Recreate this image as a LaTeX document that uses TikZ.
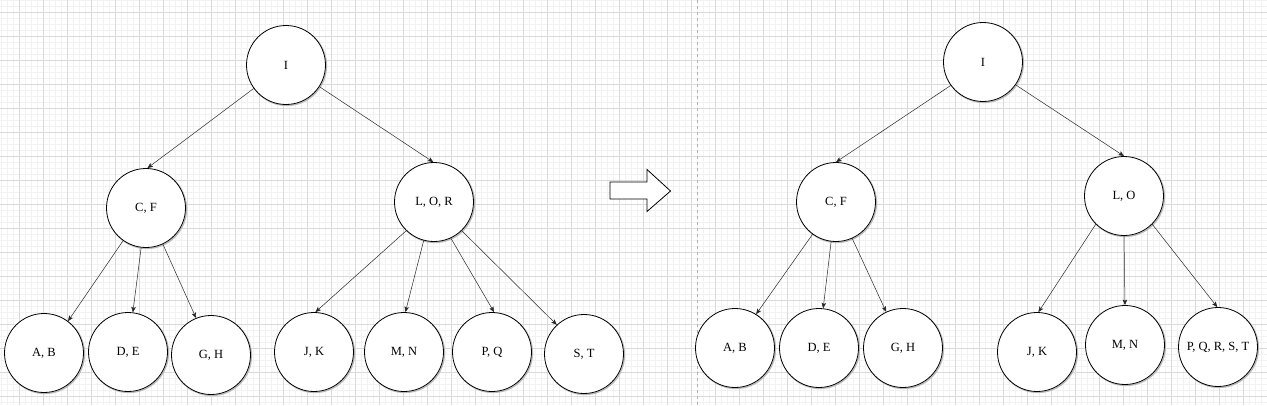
\documentclass[tikz,border=0pt]{standalone}
\usepackage{fontspec}
\setmainfont{Liberation Serif}
\usetikzlibrary{arrows.meta}
\definecolor{gridmajor}{RGB}{218,218,218}
\definecolor{gridminor}{RGB}{242,242,242}
\definecolor{edgecol}{RGB}{40,40,40}
\tikzset{
  treenode/.style={circle, draw=black, line width=0.8pt, fill=white, minimum size=79pt, inner sep=0pt,
    font=\fontsize{12.5}{14}\selectfont,
    preaction={draw=gray!55, line width=1.4pt, transform canvas={xshift=0.9pt,yshift=-0.9pt}}},
  edge/.style={draw=edgecol, line width=0.5pt, -{Stealth[length=5.5pt,width=4.5pt,inset=1.2pt]}},
}
\begin{document}
\begin{tikzpicture}[x=1pt,y=-1pt]
\useasboundingbox (0,0) rectangle (1267,405);
\fill[white] (0,0) rectangle (1267,405);
% grid
\foreach \x in {1.5,7.5,...,1267} \draw[gridminor, line width=0.5pt] (\x,0) -- (\x,405);
\foreach \y in {0.5,6.5,...,405} \draw[gridminor, line width=0.5pt] (0,\y) -- (1267,\y);
\foreach \x in {19.5,43.5,...,1267} \draw[gridmajor, line width=0.5pt] (\x,0) -- (\x,405);
\foreach \y in {12.5,36.5,...,405} \draw[gridmajor, line width=0.5pt] (0,\y) -- (1267,\y);
% separator
\draw[gray!60, line width=0.6pt, dash pattern=on 3pt off 3pt] (697,0) -- (697,405);

% left tree
\node[treenode] (I1) at (286,65) {I};
\node[treenode] (CF1) at (146,208) {C, F};
\node[treenode] (LOR) at (434,202) {L, O, R};
\node[treenode] (AB1) at (44,353) {A, B};
\node[treenode] (DE1) at (128,352) {D, E};
\node[treenode] (GH1) at (211,355) {G, H};
\node[treenode] (JK1) at (314,352) {J, K};
\node[treenode] (MN1) at (404,352) {M, N};
\node[treenode] (PQ) at (492,352) {P, Q};
\node[treenode] (ST) at (584,354) {S, T};

\draw[edge] (I1.216) -- (CF1.88);
\draw[edge] (I1.327) -- (LOR.91);
\draw[edge] (CF1.235) -- (AB1.53);
\draw[edge] (CF1.263) -- (DE1.83);
\draw[edge] (CF1.295) -- (GH1.112);
\draw[edge] (LOR.226) -- (JK1.88);
\draw[edge] (LOR.255) -- (MN1.88);
\draw[edge] (LOR.295) -- (PQ.87);
\draw[edge] (LOR.314) -- (ST.133);

% block arrow
\draw[black, line width=0.8pt, fill=white, line join=miter]
  (610,182) -- (647,182) -- (647,169.5) -- (670.5,191) -- (647,211.5) -- (647,199) -- (610,199) -- cycle;

% right tree
\node[treenode] (I2) at (983,62) {I};
\node[treenode] (CF2) at (836,202) {C, F};
\node[treenode] (LO) at (1124,196) {L, O};
\node[treenode] (AB2) at (735,348) {A, B};
\node[treenode] (DE2) at (819,348) {D, E};
\node[treenode] (GH2) at (903,348) {G, H};
\node[treenode] (JK2) at (1037,352) {J, K};
\node[treenode] (MN2) at (1125,345) {M, N};
\node[treenode] (PQRST) at (1218,347) {P, Q, R, S, T};

\draw[edge] (I2.216) -- (CF2.90);
\draw[edge] (I2.325) -- (LO.90);
\draw[edge] (CF2.234) -- (AB2.58);
\draw[edge] (CF2.263) -- (DE2.84);
\draw[edge] (CF2.294) -- (GH2.115);
\draw[edge] (LO.225) -- (JK2.88);
\draw[edge] (LO.270) -- (MN2.90);
\draw[edge] (LO.315) -- (PQRST.91);
\end{tikzpicture}
\end{document}
